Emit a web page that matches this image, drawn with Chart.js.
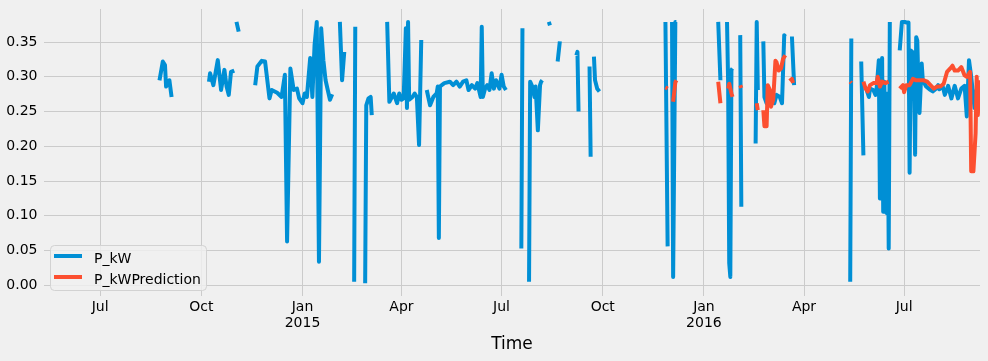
<!DOCTYPE html>
<html>
<head>
<meta charset="utf-8">
<script src="https://cdn.jsdelivr.net/npm/chart.js@4.4.0/dist/chart.umd.min.js"></script>
<style>
  html, body { margin: 0; padding: 0; background: #f0f0f0; }
  canvas { display: block; }
</style>
</head>
<body>
<canvas id="powerChart" width="988" height="361"></canvas>
<script>
// measured power (null = no data, breaks the line)
const kwDates = [
  "2014-08-24", "2014-08-27", "2014-08-29", "2014-08-30", "2014-09-02", "2014-09-04", "2014-09-05",
  "2014-10-08", "2014-10-09", "2014-10-12", "2014-10-16", "2014-10-19", "2014-10-22", "2014-10-24", "2014-10-26", "2014-10-28", "2014-10-31", "2014-11-01",
  "2014-11-02", "2014-11-04", "2014-11-05",
  "2014-11-19", "2014-11-21", "2014-11-25", "2014-11-28", "2014-12-02", "2014-12-04", "2014-12-09", "2014-12-13", "2014-12-16", "2014-12-18",
  "2014-12-21", "2014-12-24", "2014-12-27", "2014-12-29", "2015-01-01", "2015-01-03", "2015-01-05", "2015-01-08", "2015-01-10", "2015-01-12",
  "2015-01-14", "2015-01-16", "2015-01-18", "2015-01-20", "2015-01-22", "2015-01-24", "2015-01-26", "2015-01-28", "2015-01-29",
  "2015-02-04", "2015-02-06", "2015-02-08", "2015-02-09",
  "2015-02-17", "2015-02-18", "2015-02-19",
  "2015-02-27", "2015-02-28", "2015-03-02", "2015-03-04", "2015-03-05", "2015-03-06",
  "2015-03-19", "2015-03-21", "2015-03-25", "2015-03-28", "2015-03-30", "2015-04-01", "2015-04-03", "2015-04-05", "2015-04-06",
  "2015-04-07", "2015-04-08", "2015-04-11", "2015-04-13", "2015-04-15", "2015-04-17", "2015-04-19", "2015-04-21",
  "2015-04-24", "2015-04-27", "2015-04-30", "2015-05-03", "2015-05-04", "2015-05-05", "2015-05-06", "2015-05-10", "2015-05-15", "2015-05-18",
  "2015-05-21", "2015-05-24", "2015-05-27", "2015-05-30", "2015-06-01", "2015-06-04", "2015-06-07", "2015-06-09", "2015-06-12", "2015-06-13",
  "2015-06-14", "2015-06-16", "2015-06-18", "2015-06-20", "2015-06-22", "2015-06-24", "2015-06-26", "2015-06-29", "2015-07-01", "2015-07-03",
  "2015-07-05", "2015-07-06",
  "2015-07-19", "2015-07-20", "2015-07-21",
  "2015-07-26", "2015-07-27", "2015-07-29", "2015-07-31", "2015-08-01", "2015-08-03", "2015-08-05", "2015-08-06", "2015-08-07", "2015-08-08",
  "2015-08-13", "2015-08-14", "2015-08-15",
  "2015-08-21", "2015-08-23", "2015-08-24",
  "2015-09-07", "2015-09-08", "2015-09-09", "2015-09-10",
  "2015-09-19", "2015-09-20", "2015-09-21",
  "2015-09-23", "2015-09-24", "2015-09-26", "2015-09-28", "2015-09-29",
  "2015-11-27", "2015-11-29", "2015-11-30",
  "2015-12-03", "2015-12-04", "2015-12-06", "2015-12-07", "2015-12-08",
  "2016-01-14", "2016-01-16", "2016-01-17",
  "2016-01-22", "2016-01-23", "2016-01-24", "2016-01-25", "2016-01-26", "2016-01-27", "2016-01-28",
  "2016-02-03", "2016-02-04", "2016-02-05",
  "2016-02-17", "2016-02-18", "2016-02-19", "2016-02-20",
  "2016-02-24", "2016-02-25", "2016-02-27", "2016-03-01", "2016-03-02", "2016-03-05", "2016-03-07", "2016-03-10", "2016-03-12", "2016-03-14",
  "2016-03-15", "2016-03-16",
  "2016-03-21", "2016-03-23", "2016-03-24",
  "2016-05-13", "2016-05-14", "2016-05-15",
  "2016-05-23", "2016-05-25", "2016-05-26",
  "2016-05-28", "2016-05-30", "2016-05-31", "2016-06-03", "2016-06-05", "2016-06-06", "2016-06-08", "2016-06-09", "2016-06-11", "2016-06-12",
  "2016-06-13", "2016-06-15", "2016-06-16", "2016-06-17", "2016-06-18", "2016-06-20",
  "2016-06-27", "2016-06-29", "2016-07-02", "2016-07-03", "2016-07-05", "2016-07-06", "2016-07-07", "2016-07-09", "2016-07-10", "2016-07-11",
  "2016-07-12", "2016-07-13", "2016-07-14", "2016-07-15", "2016-07-17", "2016-07-18", "2016-07-21", "2016-07-24", "2016-07-27", "2016-07-30",
  "2016-08-01", "2016-08-02", "2016-08-05", "2016-08-07", "2016-08-10", "2016-08-13", "2016-08-16", "2016-08-19", "2016-08-22", "2016-08-25",
  "2016-08-27", "2016-08-29", "2016-08-31", "2016-09-03", "2016-09-05", "2016-09-07",
];
const kwValues = [
  0.295, 0.322, 0.317, 0.286, 0.295, 0.271, null,
  0.293, 0.305, 0.288, 0.324, 0.281, 0.310, 0.286, 0.274, 0.307, 0.309, null,
  0.379, 0.365, null,
  0.288, 0.315, 0.323, 0.322, 0.269, 0.281, 0.277, 0.271, 0.303, 0.063,
  0.312, 0.281, 0.283, 0.269, 0.262, 0.276, 0.271, 0.327, 0.271, 0.346,
  0.379, 0.034, 0.370, 0.324, 0.295, 0.281, 0.267, 0.275, null,
  0.379, 0.295, 0.336, null,
  0.005, 0.372, null,
  0.003, 0.259, 0.269, 0.271, 0.245, null,
  0.379, 0.264, 0.276, 0.262, 0.276, 0.267, 0.269, 0.370, 0.255,
  0.379, 0.267, 0.271, 0.276, 0.271, 0.202, 0.353, null,
  0.281, 0.259, 0.271, 0.276, 0.286, 0.068, 0.286, 0.291, 0.293, 0.288,
  0.293, 0.286, 0.293, 0.295, 0.281, 0.288, 0.283, 0.291, 0.271, 0.372,
  0.271, 0.283, 0.288, 0.281, 0.305, 0.283, 0.295, 0.283, 0.303, 0.286,
  0.281, null,
  0.053, 0.370, null,
  0.005, 0.293, 0.286, 0.271, 0.286, 0.223, 0.288, 0.293, 0.295, null,
  0.379, 0.374, null,
  0.322, 0.351, null,
  0.331, 0.336, 0.250, null,
  0.315, 0.185, null,
  0.329, 0.295, 0.283, 0.279, null,
  0.379, 0.056, null,
  0.379, 0.012, 0.379, 0.379, null,
  0.379, 0.295, null,
  0.379, 0.291, 0.032, 0.012, 0.310, 0.312, null,
  0.360, 0.113, null,
  0.204, 0.379, 0.281, null,
  0.351, 0.271, 0.262, 0.271, 0.267, 0.262, 0.274, 0.271, 0.262, 0.360,
  0.358, null,
  0.358, 0.288, null,
  0.005, 0.355, null,
  0.322, 0.187, null,
  0.281, 0.271, 0.283, 0.281, 0.274, 0.283, 0.324, 0.125, 0.327, 0.106,
  0.293, 0.104, 0.276, 0.053, 0.379, null,
  0.338, 0.379, 0.379, 0.378, 0.378, 0.162, 0.338, 0.335, 0.290, 0.188,
  0.357, 0.352, 0.290, 0.248, 0.319, 0.295, 0.286, 0.282, 0.279, 0.283,
  0.288, 0.282, 0.287, 0.274, 0.287, 0.269, 0.287, 0.269, 0.283, 0.287,
  0.243, 0.324, 0.300, 0.255, 0.281, 0.293,
];

// model prediction
const predDates = [
  "2015-11-27", "2015-11-29", "2015-11-30",
  "2015-12-04", "2015-12-06", "2015-12-07", "2015-12-08",
  "2016-01-14", "2016-01-16", "2016-01-17",
  "2016-01-23", "2016-01-24", "2016-01-26", "2016-01-27", "2016-01-28",
  "2016-02-03", "2016-02-04", "2016-02-05",
  "2016-02-18", "2016-02-19", "2016-02-20",
  "2016-02-24", "2016-02-25", "2016-02-27", "2016-02-28", "2016-03-01", "2016-03-02", "2016-03-04", "2016-03-06", "2016-03-07", "2016-03-09",
  "2016-03-11", "2016-03-13", "2016-03-15", "2016-03-16",
  "2016-03-19", "2016-03-21", "2016-03-22", "2016-03-23",
  "2016-05-13", "2016-05-14", "2016-05-15",
  "2016-05-25", "2016-05-27", "2016-05-29", "2016-05-31", "2016-06-03", "2016-06-06", "2016-06-07", "2016-06-09", "2016-06-11", "2016-06-14",
  "2016-06-17", "2016-06-20",
  "2016-06-27", "2016-06-30", "2016-07-01", "2016-07-03", "2016-07-06", "2016-07-09", "2016-07-12", "2016-07-16", "2016-07-19", "2016-07-22",
  "2016-07-25", "2016-07-28", "2016-07-31", "2016-08-03", "2016-08-06", "2016-08-09", "2016-08-12", "2016-08-14", "2016-08-16", "2016-08-19",
  "2016-08-22", "2016-08-25", "2016-08-27", "2016-08-30", "2016-08-31", "2016-09-02", "2016-09-04", "2016-09-05", "2016-09-06", "2016-09-08",
];
const predValues = [
  0.285, 0.283, null,
  0.264, 0.292, 0.295, null,
  0.293, 0.262, null,
  0.283, 0.290, 0.276, 0.271, null,
  0.288, 0.284, null,
  0.262, 0.252, null,
  0.252, 0.229, 0.229, 0.288, 0.281, 0.257, 0.267, 0.323, 0.321, 0.309,
  0.312, 0.326, 0.331, null,
  0.294, 0.297, 0.291, null,
  0.293, 0.291, null,
  0.293, 0.283, 0.279, 0.288, 0.291, 0.291, 0.300, 0.286, 0.293, 0.291,
  0.293, null,
  0.283, 0.288, 0.278, 0.288, 0.288, 0.297, 0.295, 0.295, 0.295, 0.293,
  0.288, 0.283, 0.286, 0.286, 0.290, 0.307, 0.312, 0.316, 0.309, 0.309,
  0.314, 0.302, 0.300, 0.307, 0.164, 0.164, 0.219, 0.300, 0.245, 0.295,
];

// axes
const xStart = "2014-05-11";
const xEnd = "2016-09-08";
const tickDates = ["2014-07-01", "2014-10-01", "2015-01-01", "2015-04-01", "2015-07-01", "2015-10-01", "2016-01-01", "2016-04-01", "2016-07-01"];
const tickLabels = ["Jul", "Oct", ["Jan", "2015"], "Apr", "Jul", "Oct", ["Jan", "2016"], "Apr", "Jul"];
const yTicks = [0, 0.05, 0.1, 0.15, 0.2, 0.25, 0.3, 0.35];

// days since 2014-01-01 -> linear x axis
const toDay = (s) => (Date.parse(s) - Date.parse("2014-01-01")) / 86400000;
const toPoints = (dates, values) => dates.map((d, i) => ({ x: toDay(d), y: values[i] }));

const font = "'DejaVu Sans', sans-serif";

const background = {
  id: "background",
  beforeDraw(chart) {
    const c = chart.ctx;
    c.save();
    c.fillStyle = "#f0f0f0";
    c.fillRect(0, 0, chart.width, chart.height);
    c.restore();
  },
};

// matplotlib style legend box in the lower left corner
const legendBox = {
  id: "legendBox",
  afterDatasetsDraw(chart) {
    const c = chart.ctx;
    c.save();
    c.beginPath();
    c.roundRect(50.5, 245.5, 156, 45, 4);
    c.fillStyle = "rgba(240,240,240,0.8)";
    c.fill();
    c.strokeStyle = "#d2d2d2";
    c.lineWidth = 1;
    c.stroke();
    c.font = "14px " + font;
    c.textBaseline = "alphabetic";
    chart.data.datasets.forEach((ds, i) => {
      const y = 256 + i * 21;
      c.beginPath();
      c.moveTo(54, y);
      c.lineTo(82, y);
      c.strokeStyle = ds.borderColor;
      c.lineWidth = 4;
      c.stroke();
      c.fillStyle = "#000";
      c.fillText(ds.label, 94, y + 6.5);
    });
    c.restore();
  },
};

const ctx = document.getElementById("powerChart").getContext("2d");
new Chart(ctx, {
  type: "line",
  data: {
    datasets: [
      {
        label: "P_kW",
        data: toPoints(kwDates, kwValues),
        borderColor: "#008fd5",
        borderWidth: 4,
        borderCapStyle: "butt",
        borderJoinStyle: "round",
        pointRadius: 0,
        tension: 0,
        order: 1,
      },
      {
        label: "P_kWPrediction",
        data: toPoints(predDates, predValues),
        borderColor: "#fc4f30",
        borderWidth: 4,
        borderCapStyle: "butt",
        borderJoinStyle: "round",
        pointRadius: 0,
        tension: 0,
        order: 0,
      },
    ],
  },
  options: {
    responsive: false,
    animation: false,
    devicePixelRatio: 1,
    layout: { padding: { top: 9, right: 8, bottom: 0, left: 0 } },
    plugins: {
      legend: { display: false },
      tooltip: { enabled: false },
    },
    scales: {
      x: {
        type: "linear",
        min: toDay(xStart),
        max: toDay(xEnd),
        grid: { color: "#cbcbcb", lineWidth: 1, drawTicks: false },
        border: { display: false },
        afterBuildTicks: (scale) => {
          scale.ticks = tickDates.map((d) => ({ value: toDay(d) }));
        },
        afterFit: (scale) => {
          scale.height = 65;
          scale.paddingLeft = 0;
          scale.paddingRight = 0;
        },
        ticks: {
          autoSkip: false,
          maxRotation: 0,
          padding: 3,
          color: "#000",
          font: { family: font, size: 14, lineHeight: 1.15 },
          callback: (value, index) => tickLabels[index],
        },
        title: {
          display: true,
          text: "Time",
          color: "#000",
          font: { family: font, size: 17 },
          padding: { top: 0, bottom: 6 },
        },
      },
      y: {
        min: -0.0154,
        max: 0.3976,
        grid: { color: "#cbcbcb", lineWidth: 1, drawTicks: false },
        border: { display: false },
        afterBuildTicks: (scale) => {
          scale.ticks = yTicks.map((v) => ({ value: v }));
        },
        afterFit: (scale) => {
          // keep the plot area fixed, labels may sit in the page margin
          scale.width = 44;
          scale.paddingTop = 0;
          scale.paddingBottom = 0;
        },
        ticks: {
          padding: 6.5,
          color: "#000",
          font: { family: font, size: 14 },
          callback: (value) => value.toFixed(2),
        },
      },
    },
  },
  plugins: [background, legendBox],
});
</script>
</body>
</html>
